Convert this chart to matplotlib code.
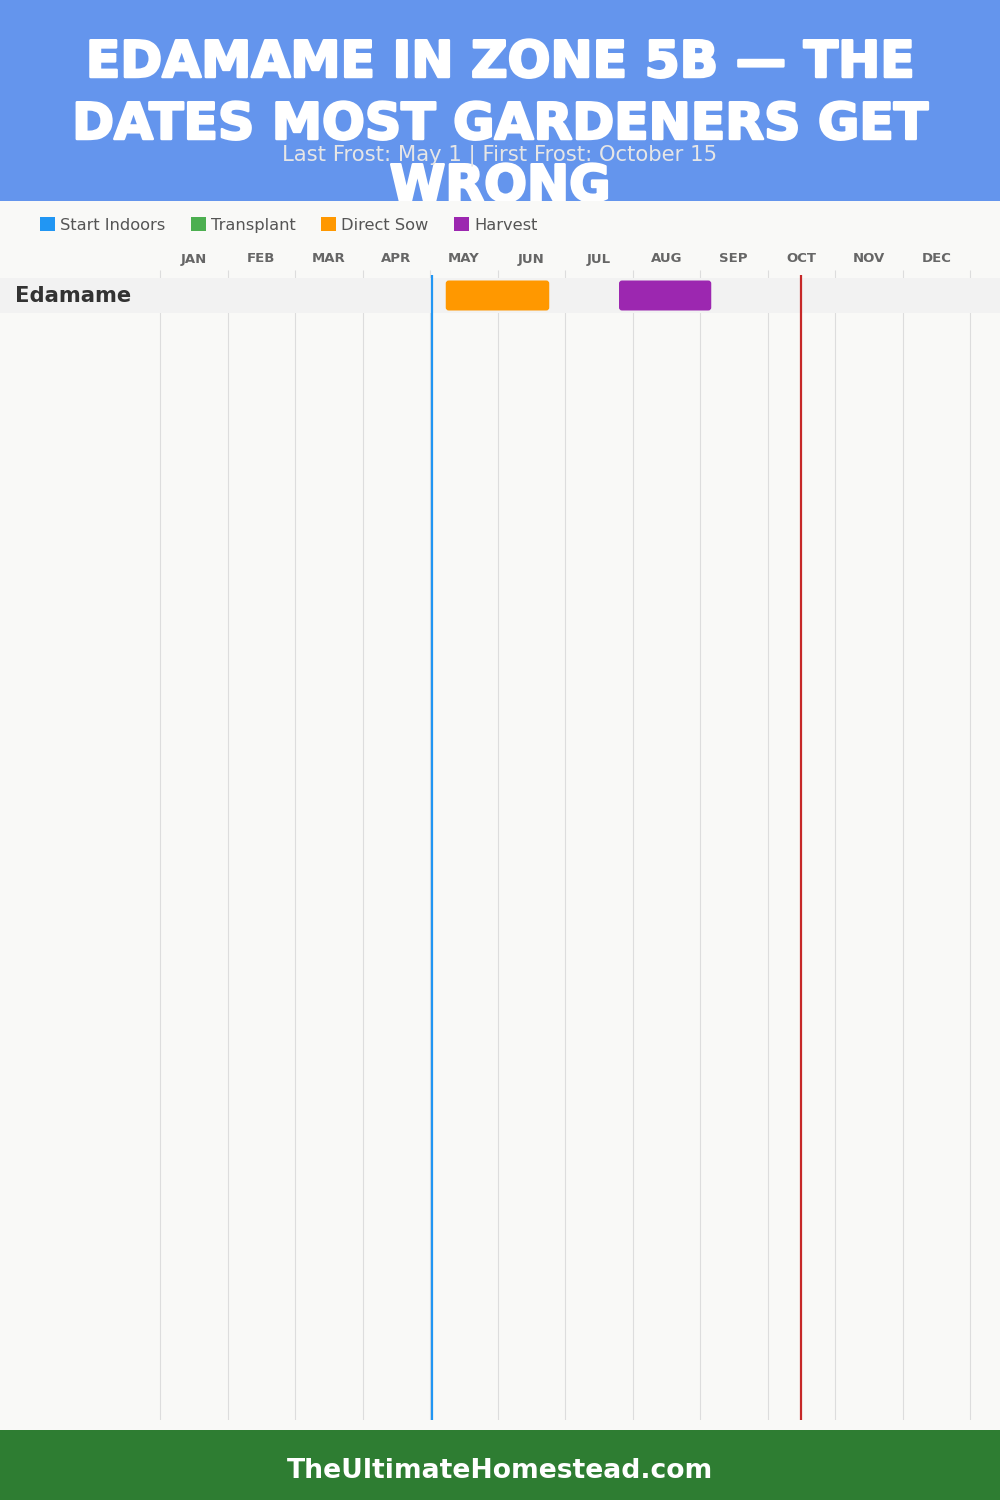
import matplotlib
matplotlib.use("Agg")
import matplotlib.pyplot as plt
import matplotlib.patheffects as pe
from matplotlib.patches import Rectangle, FancyBboxPatch, Patch

# ---------------- data ----------------
months = ['JAN', 'FEB', 'MAR', 'APR', 'MAY', 'JUN', 'JUL', 'AUG', 'SEP', 'OCT', 'NOV', 'DEC']
crops = ['Edamame']
start_indoors = []          # (crop, start 'MM-DD', end 'MM-DD')
transplant = []
direct_sow = [('Edamame', '05-07', '06-23')]
harvest = [('Edamame', '07-24', '09-05')]
last_frost = '05-01'
first_frost = '10-15'
legend_labels = ['Start Indoors', 'Transplant', 'Direct Sow', 'Harvest']
legend_colors = ['#2196F3', '#4CAF50', '#FF9800', '#9C27B0']
title_lines = ['EDAMAME IN ZONE 5B — THE', 'DATES MOST GARDENERS GET', 'WRONG']
subtitle = 'Last Frost: May 1 | First Frost: October 15'
footer = 'TheUltimateHomestead.com'


def pos(md):
    m, d = md.split('-')
    return int(m) - 1 + int(d) / 30.0


W, H = 1000, 1500
fig = plt.figure(figsize=(10, 15), dpi=100)
fig.patch.set_facecolor('#f9f9f7')

TITLE_FONT = 'DejaVu Sans'
BODY_FONT = 'DejaVu Sans'

# header
fig.patches.append(Rectangle((0, 1 - 201 / H), 1, 201 / H, transform=fig.transFigure,
                             facecolor='#6495ED', edgecolor='none', zorder=-3))
for i, (line, yc) in enumerate(zip(title_lines, [63, 125, 187])):
    fig.text(0.5, 1 - yc / H, line, ha='center', va='center', color='white',
             fontsize=36.3, fontweight='bold', family=TITLE_FONT, zorder=-2,
             path_effects=[pe.withStroke(linewidth=1.8, foreground='white')])
fig.text(0.5, 1 - 155 / H, subtitle, ha='center', va='center', color='#e6e6e6',
         fontsize=15.2, family=BODY_FONT, zorder=4)
# body background (covers title overflow), spans 201..1430 px
fig.patches.append(Rectangle((0, 70 / H), 1, (1430 - 201) / H,
                             transform=fig.transFigure, facecolor='#f9f9f7',
                             edgecolor='none', zorder=-1))

# footer
fig.patches.append(Rectangle((0, 0), 1, 70 / H, transform=fig.transFigure,
                             facecolor='#2E7D32', edgecolor='none', zorder=-1))
fig.text(0.5, 1 - 1471 / H, footer, ha='center', va='center', color='white',
         fontsize=19.2, fontweight='bold', family=BODY_FONT)

# chart axes
PX_M = 67.5
ROW_H = 35.0
ROW0 = 295.5
ax_top, ax_bot = 265, 1420
ax = fig.add_axes([0, 1 - ax_bot / H, 1, (ax_bot - ax_top) / H])
ax.set_facecolor('none')
ax.set_xlim(-160 / PX_M, 12 + 30 / PX_M)
ax.set_ylim((ax_bot - ROW0) / ROW_H, (ax_top - ROW0) / ROW_H)
ax.axis('off')

ax.vlines(range(13), (270 - ROW0) / ROW_H, (ax_bot - ROW0) / ROW_H,
          color='#dddddd', lw=0.8, zorder=0.5)
for i, m in enumerate(months):
    ax.text(i + 0.5, (259 - ROW0) / ROW_H, m, ha='center', va='center',
            fontsize=9.5, fontweight='bold', color='#666666', family=BODY_FONT, clip_on=False)

aspect = PX_M / ROW_H
for r, crop in enumerate(crops):
    ax.axhspan(r - 0.5, r + 0.5, color='#f2f2f2', zorder=1, lw=0)
    ax.text(15 / PX_M - 160 / PX_M, r, crop, ha='left', va='center', fontsize=15.2,
            fontweight='bold', color='#333333', family=BODY_FONT, zorder=3)
    for series, col in zip([start_indoors, transplant, direct_sow, harvest], legend_colors):
        for c, s, e in series:
            if c != crop:
                continue
            x0, x1 = pos(s), pos(e)
            bh = 30 / ROW_H
            ax.add_patch(FancyBboxPatch((x0, r - bh / 2), x1 - x0, bh,
                                        boxstyle='round,pad=0,rounding_size=%f' % (3 / PX_M),
                                        mutation_aspect=aspect, facecolor=col,
                                        edgecolor='none', zorder=2))

ax.vlines(pos(last_frost), (275 - ROW0) / ROW_H, (ax_bot - ROW0) / ROW_H,
          color='#2196F3', lw=1.6, zorder=3)
ax.vlines(pos(first_frost), (275 - ROW0) / ROW_H, (ax_bot - ROW0) / ROW_H,
          color='#C62828', lw=1.6, zorder=3)

handles = [Patch(facecolor=c, edgecolor='none') for c in legend_colors]
leg = fig.legend(handles, legend_labels, loc='center left', ncol=4, frameon=False,
                 bbox_to_anchor=(40 / W, 1 - 225 / H), borderpad=0, borderaxespad=0,
                 handlelength=0.94, handleheight=0.94, handletextpad=0.31,
                 columnspacing=1.55, prop={'family': BODY_FONT, 'size': 11.7})
for t in leg.get_texts():
    t.set_color('#555555')

fig.savefig('out.png', dpi=100, facecolor=fig.get_facecolor())
